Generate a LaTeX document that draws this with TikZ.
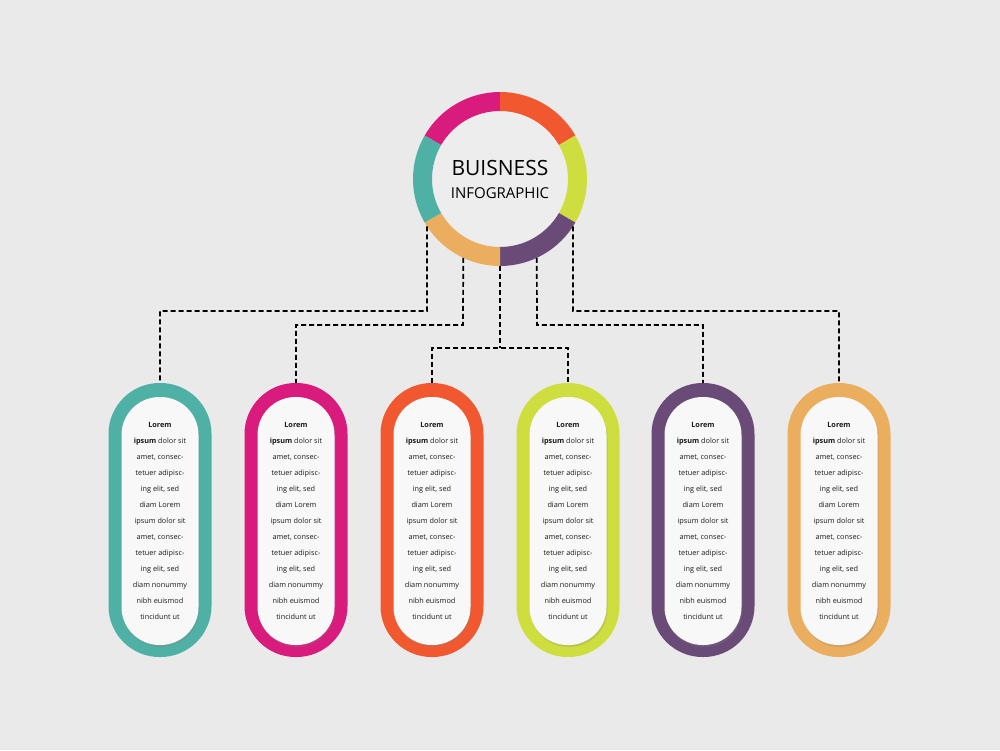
\documentclass[tikz,border=0pt]{standalone}
\usepackage{fontspec}
\setmainfont{Open Sans}
\usetikzlibrary{shadows}
\definecolor{bgray}{HTML}{EAEAEA}
\definecolor{cardw}{HTML}{F8F8F8}
\definecolor{cteal}{HTML}{4FB0A5}
\definecolor{cmag}{HTML}{D81B7D}
\definecolor{corange}{HTML}{F2582F}
\definecolor{clime}{HTML}{CFDE3F}
\definecolor{cpurple}{HTML}{6A4B78}
\definecolor{cgold}{HTML}{EBAE5E}
\newcommand{\loremtext}{\textbf{Lorem}\\\textbf{ipsum} dolor sit\\amet, consec-\\tetuer adipisc-\\ing elit, sed\\diam Lorem\\ipsum dolor sit\\amet, consec-\\tetuer adipisc-\\ing elit, sed\\diam nonummy\\nibh euismod\\tincidunt ut}

\begin{document}
\begin{tikzpicture}[x=1pt,y=-1pt,
  pill/.style={rectangle,rounded corners=51pt,minimum width=103pt,minimum height=274pt,inner sep=0pt,outer sep=0pt},
  card/.style={rectangle,fill=cardw,rounded corners=38pt,minimum width=77pt,minimum height=248pt,inner sep=0pt,
    drop shadow={shadow xshift=1pt,shadow yshift=-2pt,opacity=0.25},
    align=center,text=black!90,font=\fontsize{7.3}{16}\selectfont},
  link/.style={draw=black,line width=1.7pt,dash pattern=on 5pt off 3pt}]
\fill[bgray] (0,0) rectangle (1000,750);
\useasboundingbox (0,0) rectangle (1000,750);

\node[circle,minimum size=174pt,inner sep=0pt,outer sep=0pt,fill=bgray!85!white,align=center,text=black,
  font=\fontsize{15}{23}\selectfont] (hub) at (500,179)
  {{\fontsize{21}{23}\selectfont BUISNESS}\\INFOGRAPHIC};
\begin{scope}[shift={(hub.center)},y=1pt]
\fill[cmag] (90:87) arc[start angle=90,end angle=150,radius=87] -- (150:68) arc[start angle=150,end angle=90,radius=68] -- cycle;
\fill[corange] (30:87) arc[start angle=30,end angle=90,radius=87] -- (90:68) arc[start angle=90,end angle=30,radius=68] -- cycle;
\fill[clime] (-30:87) arc[start angle=-30,end angle=30,radius=87] -- (30:68) arc[start angle=30,end angle=-30,radius=68] -- cycle;
\fill[cpurple] (-90:87) arc[start angle=-90,end angle=-30,radius=87] -- (-30:68) arc[start angle=-30,end angle=-90,radius=68] -- cycle;
\fill[cgold] (210:87) arc[start angle=210,end angle=270,radius=87] -- (270:68) arc[start angle=270,end angle=210,radius=68] -- cycle;
\fill[cteal] (150:87) arc[start angle=150,end angle=210,radius=87] -- (210:68) arc[start angle=210,end angle=150,radius=68] -- cycle;
\end{scope}

\node[pill,fill=cteal] (p1) at (160,520) {};
\node[pill,fill=cmag] (p2) at (296,520) {};
\node[pill,fill=corange] (p3) at (432,520) {};
\node[pill,fill=clime] (p4) at (568,520) {};
\node[pill,fill=cpurple] (p5) at (703,520) {};
\node[pill,fill=cgold] (p6) at (839,520) {};

\node[card] (c1) at (160,521) {\loremtext};
\node[card] (c2) at (296,521) {\loremtext};
\node[card] (c3) at (432,521) {\loremtext};
\node[card] (c4) at (568,521) {\loremtext};
\node[card] (c5) at (703,521) {\loremtext};
\node[card] (c6) at (839,521) {\loremtext};

\coordinate (j1) at (427,311);
\coordinate (j2) at (463,325);
\coordinate (j3) at (500,348);
\coordinate (j4) at (537,325);
\coordinate (j5) at (573,311);
\draw[link] (hub.213) -- (j1) -| (p1.north);
\draw[link] (hub.245) -- (j2) -| (p2.north);
\draw[link] (hub.south) -- (j3);
\draw[link] (p3.north) |- (j3) -| (p4.north);
\draw[link] (hub.295) -- (j4) -| (p5.north);
\draw[link] (hub.327) -- (j5) -| (p6.north);

\end{tikzpicture}
\end{document}
